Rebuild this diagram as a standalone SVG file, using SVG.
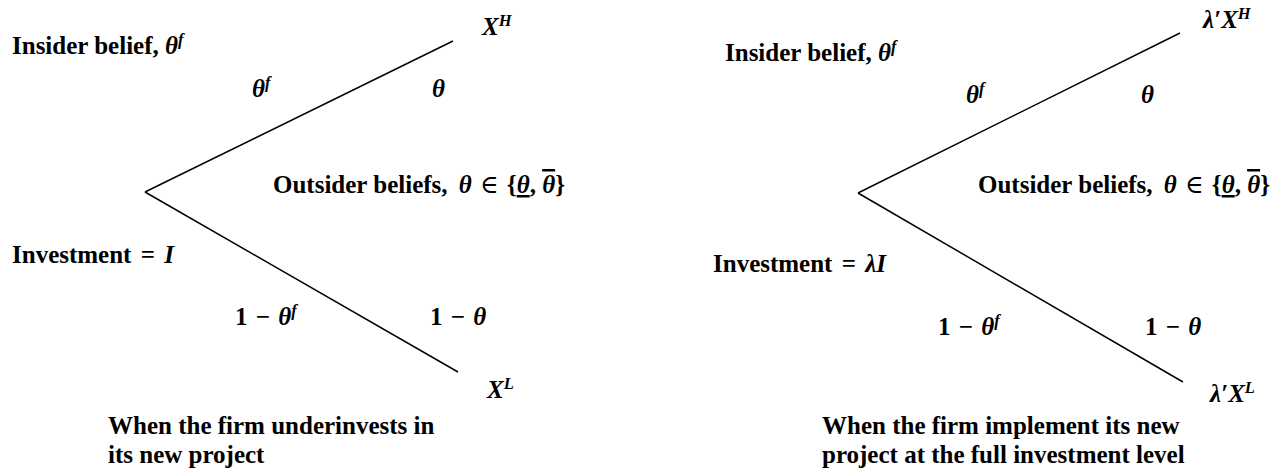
<svg xmlns="http://www.w3.org/2000/svg" width="1279" height="471" viewBox="0 0 1279 471">
<style>
text{font-family:"Liberation Serif","Times New Roman","DejaVu Serif",serif;font-weight:bold;font-size:25px;fill:#000}
.m{font-style:italic}
.s{font-size:16.5px}
.n{font-weight:normal}
.ul{text-decoration:underline}
.ol{text-decoration:overline}
line{stroke:#000;stroke-width:1.5}
</style>
<rect width="1279" height="471" fill="#fff"/>
<g id="connectors">
<line x1="145" y1="192" x2="453" y2="41"/>
<line x1="145" y1="192" x2="458" y2="372"/>
<line x1="858" y1="193" x2="1180" y2="33"/>
<line x1="858" y1="193" x2="1183" y2="382"/>
</g>
<g id="left-tree">
<g id="left-insider"><text x="12" y="54">Insider belief, <tspan class="m">θ</tspan><tspan class="m s" dy="-9">f</tspan></text></g>
<g id="left-p-up"><text x="252" y="97" class="m">θ<tspan class="s" dy="-9">f</tspan></text></g>
<g id="left-q-up"><text x="432" y="97" class="m">θ</text></g>
<g id="left-xh"><text x="482" y="35" class="m">X<tspan class="s" dy="-9">H</tspan></text></g>
<g id="left-outsider"><text x="273" y="193">Outsider beliefs, <tspan class="m" dx="5">θ</tspan> <tspan class="n" dx="2">∈</tspan> <tspan dx="2">{</tspan><tspan class="m ul">θ</tspan>, <tspan class="m ol">θ</tspan>}</text></g>
<g id="left-invest"><text x="12" y="263">Investment <tspan dx="3">=</tspan> <tspan class="m" dx="3">I</tspan></text></g>
<g id="left-p-down"><text x="235" y="325">1 <tspan dx="2">−</tspan> <tspan class="m" dx="2">θ</tspan><tspan class="m s" dy="-9">f</tspan></text></g>
<g id="left-q-down"><text x="430" y="325">1 <tspan dx="2">−</tspan> <tspan class="m" dx="2">θ</tspan></text></g>
<g id="left-xl"><text x="487" y="398" class="m">X<tspan class="s" dy="-9">L</tspan></text></g>
<g id="left-caption"><text x="108" y="434">When the firm underinvests in</text><text x="108" y="463">its new project</text></g>
</g>
<g id="right-tree">
<g id="right-insider"><text x="725" y="61">Insider belief, <tspan class="m">θ</tspan><tspan class="m s" dy="-9">f</tspan></text></g>
<g id="right-p-up"><text x="966" y="103" class="m">θ<tspan class="s" dy="-9">f</tspan></text></g>
<g id="right-q-up"><text x="1141" y="103" class="m">θ</text></g>
<g id="right-xh"><text x="1203" y="28" class="m">λ′X<tspan class="s" dy="-9">H</tspan></text></g>
<g id="right-outsider"><text x="978" y="193">Outsider beliefs, <tspan class="m" dx="5">θ</tspan> <tspan class="n" dx="2">∈</tspan> <tspan dx="2">{</tspan><tspan class="m ul">θ</tspan>, <tspan class="m ol">θ</tspan>}</text></g>
<g id="right-invest"><text x="713" y="272">Investment <tspan dx="3">=</tspan> <tspan class="m" dx="3">λI</tspan></text></g>
<g id="right-p-down"><text x="938" y="335">1 <tspan dx="2">−</tspan> <tspan class="m" dx="2">θ</tspan><tspan class="m s" dy="-9">f</tspan></text></g>
<g id="right-q-down"><text x="1145" y="335">1 <tspan dx="2">−</tspan> <tspan class="m" dx="2">θ</tspan></text></g>
<g id="right-xl"><text x="1210" y="402" class="m">λ′X<tspan class="s" dy="-9">L</tspan></text></g>
<g id="right-caption"><text x="822" y="434">When the firm implement its new</text><text x="822" y="463">project at the full investment level</text></g>
</g>
</svg>
